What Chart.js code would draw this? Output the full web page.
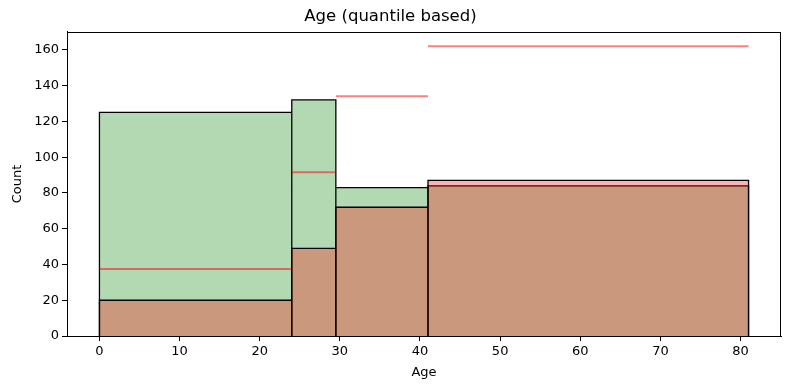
<!DOCTYPE html>
<html>
<head>
<meta charset="utf-8">
<script src="https://cdn.jsdelivr.net/npm/chart.js@4/dist/chart.umd.min.js"></script>
<style>
html,body{margin:0;padding:0;background:#fff;}
#wrap{width:790px;height:390px;}
</style>
</head>
<body>
<div id="wrap"><canvas id="c" width="790" height="390"></canvas></div>
<script>
// ---- data ----
const binEdges = [0, 24, 29.5, 41, 81];
const greenCounts = [125, 132, 83, 84];
const redCounts = [20, 49, 72, 87];
const redLineLevels = [37.5, 91.5, 134, 162];
const xTickValues = [0, 10, 20, 30, 40, 50, 60, 70, 80];
const yTickValues = [0, 20, 40, 60, 80, 100, 120, 140, 160];
const titleText = 'Age (quantile based)';
const xLabel = 'Age';
const yLabel = 'Count';

function barPath(edges, counts) {
  const pts = [{x: edges[0], y: 0}];
  for (let i = 0; i < counts.length; i++) {
    pts.push({x: edges[i], y: counts[i]});
    pts.push({x: edges[i + 1], y: counts[i]});
    pts.push({x: edges[i + 1], y: 0});
  }
  return pts;
}
function levelSegments(edges, levels) {
  const pts = [];
  for (let i = 0; i < levels.length; i++) {
    if (i > 0) pts.push({x: edges[i], y: null});
    pts.push({x: edges[i], y: levels[i]});
    pts.push({x: edges[i + 1], y: levels[i]});
  }
  return pts;
}

const FONT = 'DejaVu Sans';
const frame = {
  id: 'frame',
  afterDatasetsDraw(chart) {
    const a = chart.chartArea, ctx = chart.ctx;
    ctx.save();
    ctx.strokeStyle = '#000';
    ctx.lineWidth = 1;
    ctx.strokeRect(Math.round(a.left) + 0.5, Math.round(a.top) + 0.5,
                   Math.round(a.right - a.left) - 1, Math.round(a.bottom - a.top));
    ctx.restore();
  }
};

new Chart(document.getElementById('c'), {
  type: 'line',
  data: {
    datasets: [
      {
        label: 'lines',
        data: levelSegments(binEdges, redLineLevels),
        borderColor: 'rgba(255,0,0,0.5)',
        borderWidth: 2,
        pointRadius: 0,
        fill: false,
        spanGaps: false,
        tension: 0,
        order: 0
      },
      {
        label: 'red',
        data: barPath(binEdges, redCounts),
        borderColor: '#000',
        borderWidth: 1.3,
        backgroundColor: 'rgba(255,0,0,0.3)',
        fill: 'origin',
        pointRadius: 0,
        tension: 0,
        order: 1
      },
      {
        label: 'green',
        data: barPath(binEdges, greenCounts),
        borderColor: '#000',
        borderWidth: 1.3,
        backgroundColor: 'rgba(0,128,0,0.3)',
        fill: 'origin',
        pointRadius: 0,
        tension: 0,
        order: 2
      }
    ]
  },
  options: {
    responsive: false,
    animation: false,
    devicePixelRatio: 1,
    layout: {padding: {left: 0, right: 9, top: 0, bottom: 0}},
    plugins: {
      legend: {display: false},
      tooltip: {enabled: false},
      title: {
        display: true,
        text: titleText,
        color: '#000',
        font: {family: FONT, size: 16.5, weight: 'normal', lineHeight: 1.2},
        padding: {top: 7, bottom: 5}
      }
    },
    scales: {
      x: {
        type: 'linear',
        min: -4.05,
        max: 85.05,
        afterBuildTicks: s => { s.ticks = xTickValues.map(v => ({value: v})); },
        afterFit: s => { s.height = 54; },
        grid: {display: true, drawOnChartArea: false, drawTicks: true, tickLength: 5, color: '#000', tickWidth: 1},
        border: {display: true, color: '#000', width: 1},
        ticks: {color: '#000', font: {family: FONT, size: 13}, padding: 3, maxRotation: 0, autoSkip: false},
        title: {display: true, text: xLabel, color: '#000', font: {family: FONT, size: 13}, padding: {top: 2, bottom: 10}}
      },
      y: {
        type: 'linear',
        min: 0,
        max: 170.1,
        afterBuildTicks: s => { s.ticks = yTickValues.map(v => ({value: v})); },
        afterFit: s => { s.width = 67; },
        grid: {display: true, drawOnChartArea: false, drawTicks: true, tickLength: 5, color: '#000', tickWidth: 1},
        border: {display: true, color: '#000', width: 1},
        ticks: {color: '#000', font: {family: FONT, size: 13}, padding: 3, autoSkip: false},
        title: {display: true, text: yLabel, color: '#000', font: {family: FONT, size: 13}, padding: {top: 10, bottom: 2}}
      }
    }
  },
  plugins: [frame]
});
</script>
</body>
</html>
